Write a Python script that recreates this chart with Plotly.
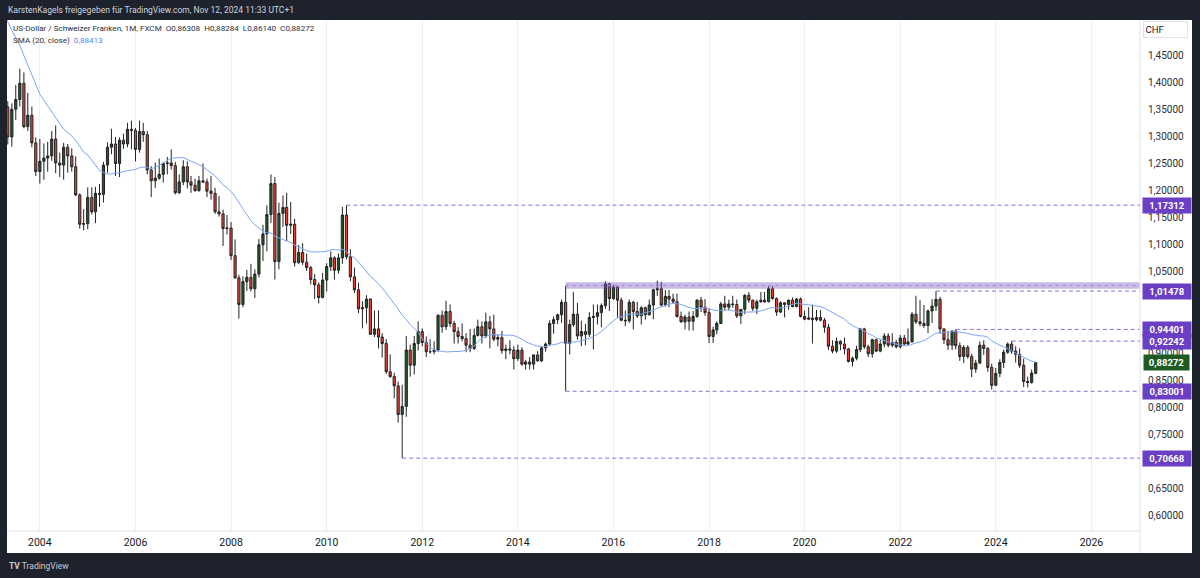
import pandas as pd
import plotly.graph_objects as go

# ---------------- data (USD/CHF monthly, FXCM) ----------------
start_month = "2001-09-01"

open_ = [
    1.6700, 1.6180, 1.6400, 1.6500,  # 2001 Sep-Dec
    1.6650, 1.7000, 1.7000, 1.6600, 1.6200, 1.5600, 1.4900, 1.4700, 1.4800, 1.4800, 1.4800, 1.4900,  # 2002
    1.3850, 1.3700, 1.3600, 1.3500, 1.3540, 1.2990, 1.3500, 1.3680, 1.3980, 1.3180, 1.3390, 1.2880,  # 2003
    1.2350, 1.2540, 1.2600, 1.2640, 1.2950, 1.2510, 1.2470, 1.2800, 1.2640, 1.2440, 1.1920, 1.1380,  # 2004
    1.1390, 1.1875, 1.1610, 1.1950, 1.1930, 1.2470, 1.2800, 1.2860, 1.2500, 1.2930, 1.2860, 1.3130,  # 2005
    1.3110, 1.2760, 1.3090, 1.3030, 1.2380, 1.2180, 1.2230, 1.2300, 1.2500, 1.2510, 1.2460, 1.1960,  # 2006
    1.2160, 1.2440, 1.2160, 1.2100, 1.2000, 1.2180, 1.2160, 1.1990, 1.1950, 1.1610, 1.1570, 1.1300,  # 2007
    1.1310, 1.0800, 1.0390, 0.9900, 1.0320, 1.0400, 1.0190, 1.0460, 1.1000, 1.1200, 1.1560, 1.2130,  # 2008
    1.0690, 1.1580, 1.1690, 1.1360, 1.1380, 1.0670, 1.0860, 1.0680, 1.0580, 1.0360, 1.0260, 1.0030,  # 2009
    1.0350, 1.0600, 1.0760, 1.0530, 1.0760, 1.1550, 1.0780, 1.0410, 1.0170, 0.9820, 0.9840, 1.0000,  # 2010
    0.9350, 0.9450, 0.9300, 0.9180, 0.8660, 0.8570, 0.8400, 0.7870, 0.8020, 0.9060, 0.8780, 0.9180,  # 2011
    0.9400, 0.9200, 0.9030, 0.9030, 0.9060, 0.9700, 0.9490, 0.9770, 0.9550, 0.9400, 0.9310, 0.9270,  # 2012
    0.9150, 0.9090, 0.9330, 0.9490, 0.9320, 0.9580, 0.9450, 0.9260, 0.9290, 0.9050, 0.9080, 0.9060,  # 2013
    0.8900, 0.9060, 0.8800, 0.8840, 0.8800, 0.8970, 0.8860, 0.9100, 0.9170, 0.9550, 0.9620, 0.9710,  # 2014
    0.9940, 0.9180, 0.9530, 0.9720, 0.9320, 0.9400, 0.9350, 0.9660, 0.9680, 0.9750, 0.9880, 1.0280,  # 2015
    1.0010, 1.0220, 0.9980, 0.9610, 0.9600, 0.9940, 0.9770, 0.9690, 0.9840, 0.9710, 0.9890, 1.0170,  # 2016
    1.0190, 0.9890, 1.0050, 1.0000, 0.9950, 0.9680, 0.9580, 0.9670, 0.9590, 0.9680, 0.9980, 0.9850,  # 2017
    0.9750, 0.9310, 0.9430, 0.9550, 0.9910, 0.9850, 0.9910, 0.9900, 0.9690, 0.9810, 1.0070, 0.9980,  # 2018
    0.9830, 0.9950, 0.9980, 0.9950, 1.0190, 1.0010, 0.9760, 0.9930, 0.9900, 0.9980, 0.9860, 1.0000,  # 2019
    0.9680, 0.9630, 0.9650, 0.9620, 0.9660, 0.9610, 0.9480, 0.9130, 0.9040, 0.9220, 0.9170, 0.9080,  # 2020
    0.8850, 0.8910, 0.9070, 0.9450, 0.9120, 0.8990, 0.9250, 0.9040, 0.9170, 0.9320, 0.9150, 0.9200,  # 2021
    0.9120, 0.9280, 0.9170, 0.9210, 0.9720, 0.9580, 0.9550, 0.9510, 0.9780, 0.9870, 0.9995, 0.9450,  # 2022
    0.9250, 0.9150, 0.9410, 0.9140, 0.8940, 0.9110, 0.8940, 0.8710, 0.8820, 0.9150, 0.9090, 0.8740,  # 2023
    0.8410, 0.8630, 0.8830, 0.9020, 0.9170, 0.9040, 0.8980, 0.8780, 0.8480, 0.8460, 0.86308,         # 2024
]

high = [
    1.6900, 1.6600, 1.6750, 1.6900,
    1.7150, 1.7400, 1.7100, 1.6850, 1.6250, 1.5650, 1.5000, 1.5250, 1.5150, 1.5150, 1.5100, 1.4950,
    1.4050, 1.3800, 1.4150, 1.4100, 1.3650, 1.3610, 1.3950, 1.4250, 1.4180, 1.3800, 1.3550, 1.2980,
    1.2950, 1.2870, 1.2900, 1.3100, 1.3200, 1.2700, 1.2880, 1.2860, 1.2780, 1.2630, 1.1950, 1.1660,
    1.2060, 1.2060, 1.2070, 1.2120, 1.2530, 1.2890, 1.3140, 1.2990, 1.2980, 1.3050, 1.3250, 1.3290,
    1.3150, 1.3290, 1.3250, 1.3100, 1.2450, 1.2520, 1.2590, 1.2520, 1.2620, 1.2760, 1.2530, 1.2300,
    1.2560, 1.2540, 1.2270, 1.2220, 1.2270, 1.2500, 1.2220, 1.2270, 1.2050, 1.1900, 1.1650, 1.1550,
    1.1420, 1.1100, 1.0450, 1.0420, 1.0540, 1.0650, 1.0550, 1.1110, 1.1370, 1.1730, 1.2300, 1.2250,
    1.1780, 1.1910, 1.1960, 1.1790, 1.1480, 1.1000, 1.1030, 1.0840, 1.0610, 1.0460, 1.0310, 1.0480,
    1.0660, 1.0880, 1.0790, 1.0840, 1.1700, 1.17312, 1.0920, 1.0580, 1.0300, 0.9960, 1.0070, 1.0010,
    0.9790, 0.9790, 0.9370, 0.9260, 0.8980, 0.8640, 0.8480, 0.8420, 0.9320, 0.9160, 0.9320, 0.9590,
    0.9460, 0.9310, 0.9260, 0.9220, 0.9720, 0.9790, 0.9970, 0.9900, 0.9600, 0.9480, 0.9550, 0.9370,
    0.9450, 0.9460, 0.9620, 0.9590, 0.9750, 0.9690, 0.9710, 0.9350, 0.9410, 0.9160, 0.9240, 0.9130,
    0.9160, 0.9110, 0.8880, 0.8930, 0.8980, 0.9040, 0.9120, 0.9200, 0.9610, 0.9680, 0.9730, 0.9990,
    1.0240, 0.9620, 1.0130, 0.9930, 0.9600, 0.9540, 0.9760, 0.9900, 0.9900, 0.9920, 1.0330, 1.0300,
    1.0260, 1.0240, 1.0030, 0.9790, 0.9990, 0.9970, 0.9950, 0.9870, 0.9860, 0.9990, 1.0190, 1.0340,
    1.0320, 1.0170, 1.0170, 1.0100, 1.0100, 0.9770, 0.9710, 0.9770, 0.9780, 1.0000, 1.0040, 1.0000,
    0.9830, 0.9490, 0.9590, 0.9950, 1.0060, 0.9990, 1.0060, 0.9990, 0.9810, 1.0090, 1.0130, 0.9990,
    0.9990, 1.0130, 1.0130, 1.0240, 1.0240, 1.0030, 0.9960, 0.9940, 0.9990, 1.0030, 1.0020, 1.0030,
    0.9790, 0.9850, 0.9900, 0.9800, 0.9800, 0.9650, 0.9540, 0.9240, 0.9290, 0.9240, 0.9290, 0.9100,
    0.8940, 0.9140, 0.9470, 0.9470, 0.9160, 0.9270, 0.9270, 0.9250, 0.9370, 0.9370, 0.9370, 0.9250,
    0.9340, 0.9340, 0.9460, 0.9760, 1.0060, 0.9980, 0.9890, 0.9810, 1.0000, 1.01478, 1.0040, 0.9460,
    0.9410, 0.9420, 0.94401, 0.9200, 0.9150, 0.9150, 0.8990, 0.8880, 0.9220, 0.9240, 0.9110, 0.8810,
    0.8730, 0.8890, 0.9070, 0.9200, 0.92242, 0.9130, 0.9090, 0.8900, 0.8570, 0.8700, 0.88284,
]

low = [
    1.5900, 1.6050, 1.6050, 1.6350,
    1.6450, 1.6850, 1.6500, 1.6100, 1.5500, 1.4750, 1.4200, 1.4600, 1.4650, 1.4750, 1.4500, 1.3800,
    1.3500, 1.3300, 1.3400, 1.3450, 1.2850, 1.2810, 1.3300, 1.3550, 1.3150, 1.3100, 1.2800, 1.2270,
    1.2130, 1.2200, 1.2350, 1.2550, 1.2320, 1.2250, 1.2200, 1.2330, 1.2350, 1.1900, 1.1300, 1.1270,
    1.1290, 1.1560, 1.1400, 1.1700, 1.1780, 1.2330, 1.2670, 1.2270, 1.2250, 1.2770, 1.2800, 1.2760,
    1.2540, 1.2700, 1.2900, 1.2300, 1.1880, 1.2050, 1.2200, 1.2150, 1.2300, 1.2390, 1.1930, 1.1940,
    1.2100, 1.2040, 1.1960, 1.1980, 1.1980, 1.2140, 1.1880, 1.1830, 1.1570, 1.1520, 1.0980, 1.1190,
    1.0720, 1.0380, 0.9640, 0.9850, 1.0150, 1.0140, 1.0020, 1.0400, 1.0700, 1.0880, 1.1400, 1.0360,
    1.0550, 1.1330, 1.1070, 1.1200, 1.0600, 1.0650, 1.0630, 1.0520, 1.0270, 1.0000, 0.9920, 1.0010,
    1.0140, 1.0520, 1.0360, 1.0470, 1.0650, 1.0730, 1.0330, 1.0110, 0.9740, 0.9460, 0.9550, 0.9340,
    0.9300, 0.9090, 0.8920, 0.8620, 0.8550, 0.8170, 0.7720, 0.70668, 0.7830, 0.8570, 0.8610, 0.9050,
    0.9130, 0.8930, 0.8990, 0.8980, 0.9020, 0.9380, 0.9430, 0.9480, 0.9180, 0.9180, 0.9220, 0.9020,
    0.9020, 0.9060, 0.9310, 0.9180, 0.9280, 0.9090, 0.9220, 0.9130, 0.8990, 0.8890, 0.8980, 0.8700,
    0.8860, 0.8770, 0.8700, 0.8700, 0.8700, 0.8850, 0.8840, 0.9030, 0.9140, 0.9360, 0.9540, 0.9560,
    0.83001, 0.8980, 0.9490, 0.9250, 0.9130, 0.9150, 0.9300, 0.9070, 0.9530, 0.9480, 0.9820, 0.9780,
    0.9980, 0.9660, 0.9590, 0.9500, 0.9560, 0.9440, 0.9650, 0.9530, 0.9620, 0.9700, 0.9630, 1.0060,
    0.9860, 0.9860, 0.9850, 0.9910, 0.9660, 0.9560, 0.9440, 0.9420, 0.9420, 0.9650, 0.9760, 0.9690,
    0.9190, 0.9190, 0.9350, 0.9540, 0.9790, 0.9790, 0.9840, 0.9650, 0.9540, 0.9720, 0.9930, 0.9780,
    0.9720, 0.9930, 0.9930, 0.9940, 0.9990, 0.9690, 0.9740, 0.9660, 0.9800, 0.9850, 0.9850, 0.9660,
    0.9610, 0.9610, 0.9180, 0.9590, 0.9590, 0.9380, 0.9060, 0.9000, 0.9010, 0.9060, 0.8980, 0.8830,
    0.8760, 0.8870, 0.9020, 0.9080, 0.8930, 0.8920, 0.9020, 0.9020, 0.9110, 0.9110, 0.9110, 0.9090,
    0.9090, 0.9150, 0.9150, 0.9200, 0.9540, 0.9500, 0.9470, 0.9370, 0.9560, 0.9780, 0.9360, 0.9170,
    0.9060, 0.9060, 0.9070, 0.8860, 0.8820, 0.8900, 0.8560, 0.8640, 0.8800, 0.8970, 0.8660, 0.8330,
    0.8400, 0.8560, 0.8730, 0.8990, 0.8990, 0.8830, 0.8730, 0.8380, 0.8370, 0.8440, 0.86140,
]

close = [
    1.6180, 1.6400, 1.6500, 1.6650,
    1.7000, 1.7000, 1.6600, 1.6200, 1.5600, 1.4900, 1.4700, 1.4800, 1.4800, 1.4800, 1.4900, 1.3850,
    1.3700, 1.3600, 1.3500, 1.3540, 1.2990, 1.3500, 1.3680, 1.3980, 1.3180, 1.3390, 1.2880, 1.2350,
    1.2540, 1.2600, 1.2640, 1.2950, 1.2510, 1.2470, 1.2800, 1.2640, 1.2440, 1.1920, 1.1380, 1.1390,
    1.1875, 1.1610, 1.1950, 1.1930, 1.2470, 1.2800, 1.2860, 1.2500, 1.2930, 1.2860, 1.3130, 1.3110,
    1.2760, 1.3090, 1.3030, 1.2380, 1.2180, 1.2230, 1.2300, 1.2500, 1.2510, 1.2460, 1.1960, 1.2160,
    1.2440, 1.2160, 1.2100, 1.2000, 1.2180, 1.2160, 1.1990, 1.1950, 1.1610, 1.1570, 1.1300, 1.1310,
    1.0800, 1.0390, 0.9900, 1.0320, 1.0400, 1.0190, 1.0460, 1.1000, 1.1200, 1.1560, 1.2130, 1.0690,
    1.1580, 1.1690, 1.1360, 1.1380, 1.0670, 1.0860, 1.0680, 1.0580, 1.0360, 1.0260, 1.0030, 1.0350,
    1.0600, 1.0760, 1.0530, 1.0760, 1.1550, 1.0780, 1.0410, 1.0170, 0.9820, 0.9840, 1.0000, 0.9350,
    0.9450, 0.9300, 0.9180, 0.8660, 0.8570, 0.8400, 0.7870, 0.8020, 0.9060, 0.8780, 0.9180, 0.9400,
    0.9200, 0.9030, 0.9030, 0.9060, 0.9700, 0.9490, 0.9770, 0.9550, 0.9400, 0.9310, 0.9270, 0.9150,
    0.9090, 0.9330, 0.9490, 0.9320, 0.9580, 0.9450, 0.9260, 0.9290, 0.9050, 0.9080, 0.9060, 0.8900,
    0.9060, 0.8800, 0.8840, 0.8800, 0.8970, 0.8860, 0.9100, 0.9170, 0.9550, 0.9620, 0.9710, 0.9940,
    0.9180, 0.9530, 0.9720, 0.9320, 0.9400, 0.9350, 0.9660, 0.9680, 0.9750, 0.9880, 1.0280, 1.0010,
    1.0220, 0.9980, 0.9610, 0.9600, 0.9940, 0.9770, 0.9690, 0.9840, 0.9710, 0.9890, 1.0170, 1.0190,
    0.9890, 1.0050, 1.0000, 0.9950, 0.9680, 0.9580, 0.9670, 0.9590, 0.9680, 0.9980, 0.9850, 0.9750,
    0.9310, 0.9430, 0.9550, 0.9910, 0.9850, 0.9910, 0.9900, 0.9690, 0.9810, 1.0070, 0.9980, 0.9830,
    0.9950, 0.9980, 0.9950, 1.0190, 1.0010, 0.9760, 0.9930, 0.9900, 0.9980, 0.9860, 1.0000, 0.9680,
    0.9630, 0.9650, 0.9620, 0.9660, 0.9610, 0.9480, 0.9130, 0.9040, 0.9220, 0.9170, 0.9080, 0.8850,
    0.8910, 0.9070, 0.9450, 0.9120, 0.8990, 0.9250, 0.9040, 0.9170, 0.9320, 0.9150, 0.9200, 0.9120,
    0.9280, 0.9170, 0.9210, 0.9720, 0.9580, 0.9550, 0.9510, 0.9780, 0.9870, 0.9995, 0.9450, 0.9250,
    0.9150, 0.9410, 0.9140, 0.8940, 0.9110, 0.8940, 0.8710, 0.8820, 0.9150, 0.9090, 0.8740, 0.8410,
    0.8630, 0.8830, 0.9020, 0.9170, 0.9040, 0.8980, 0.8780, 0.8480, 0.8460, 0.8636, 0.88272,
]

# horizontal levels drawn on the chart (price, start month)
level_prices = [1.17312, 1.01478, 0.94401, 0.92242, 0.83001, 0.70668]
level_starts = ["2010-06-01", "2022-10-01", "2023-03-01", "2024-05-01", "2015-01-01", "2011-08-01"]
zone_start = "2015-01-01"
zone_low, zone_high, zone_mid = 1.0190, 1.0310, 1.0250
last_price = 0.88272
sma_last_text = "0,88413"

# price-scale labels that are not hidden behind the level tags
y_ticks = [0.60, 0.65, 0.75, 0.80, 0.85, 0.90, 1.05,
           1.10, 1.15, 1.20, 1.25, 1.30, 1.35, 1.40, 1.45]

header_text = "KarstenKagels freigegeben für TradingView.com, Nov 12, 2024 11:33 UTC+1"
legend_text = "US-Dollar / Schweizer Franken, 1M, FXCM"
ohlc_text = "O0,86308\u00a0\u00a0H0,88284\u00a0\u00a0L0,86140\u00a0\u00a0C0,88272"

# ---------------- figure ----------------
n = min(len(open_), len(high), len(low), len(close))
dates = pd.date_range(start_month, periods=n, freq="MS")
sma = pd.Series(close[:n]).rolling(20).mean()

FONT = "Roboto"
DARK = "#1e222d"
PURPLE = "#6a3fc4"
DASH_C = "#8c6cdc"

fig = go.Figure()
fig.add_trace(go.Candlestick(
    x=dates, open=open_[:n], high=high[:n], low=low[:n], close=close[:n],
    increasing=dict(line=dict(color="#222222", width=1), fillcolor="#1f5a2c"),
    decreasing=dict(line=dict(color="#222222", width=1), fillcolor="#ee3f33"),
    whiskerwidth=0, hoverinfo="skip", showlegend=False,
))
fig.add_trace(go.Scatter(
    x=dates, y=sma, mode="lines", line=dict(color="#7aa5f5", width=1),
    hoverinfo="skip", showlegend=False,
))

shapes = []
# white chart canvas inside dark frame
shapes.append(dict(type="rect", xref="paper", yref="paper", x0=0, x1=1.0459,
                   y0=-0.04305, y1=1, fillcolor="white", line=dict(width=0), layer="below"))
# resistance zone
shapes.append(dict(type="rect", xref="x", yref="y", x0=zone_start, x1="2027-12-01",
                   y0=zone_low, y1=zone_high, fillcolor="rgba(126,87,194,0.42)",
                   line=dict(width=0), layer="above"))
shapes.append(dict(type="line", xref="x", yref="y", x0=zone_start, x1="2027-12-01",
                   y0=zone_mid, y1=zone_mid, line=dict(color="#9f86de", width=1, dash="3px,4px"),
                   layer="above"))
for p, s in zip(level_prices, level_starts):
    shapes.append(dict(type="line", xref="x", yref="y", x0=s, x1="2027-12-01", y0=p, y1=p,
                       line=dict(color=DASH_C, width=1, dash="4px,3px"), layer="above"))
# axis separators
shapes.append(dict(type="line", xref="paper", yref="paper", x0=1, x1=1, y0=-0.04305, y1=1,
                   line=dict(color="#e0e3eb", width=1), layer="above"))
shapes.append(dict(type="line", xref="paper", yref="paper", x0=0, x1=1, y0=0, y1=0,
                   line=dict(color="#e0e3eb", width=1), layer="above"))

annotations = []
annotations.append(dict(xref="paper", yref="paper", x=0, y=1, xshift=-1, yshift=10,
                        xanchor="left", yanchor="middle", showarrow=False,
                        text=header_text, font=dict(family=FONT, size=8.5, color="#d1d4dc")))
annotations.append(dict(xref="paper", yref="paper", x=0, y=1, xshift=4, yshift=-7.5,
                        xanchor="left", yanchor="middle", showarrow=False,
                        text=legend_text + "\u00a0\u00a0" + ohlc_text,
                        font=dict(family=FONT, size=8.1, color="#2a2e39")))
annotations.append(dict(xref="paper", yref="paper", x=0, y=1, xshift=4, yshift=-20,
                        xanchor="left", yanchor="middle", showarrow=False,
                        text="SMA (20, close)\u00a0\u00a0<span style='color:#4f86f0'>" + sma_last_text + "</span>",
                        font=dict(family=FONT, size=8.1, color="#2a2e39")))
annotations.append(dict(xref="paper", yref="paper", x=1, y=1, xshift=3, yshift=-9.5,
                        xanchor="left", yanchor="middle", showarrow=False, text="CHF",
                        align="left", width=40, height=12, borderpad=1.5,
                        bordercolor="#e0e3eb", borderwidth=1, bgcolor="white",
                        font=dict(family=FONT, size=9.5, color="#131722")))
for p in level_prices:
    annotations.append(dict(xref="paper", yref="y", x=1, y=p, xshift=1.5,
                            xanchor="left", yanchor="middle", showarrow=False,
                            text="<b>" + f"{p:.5f}".replace(".", ",") + "</b>",
                            width=44, height=11, borderpad=2, bgcolor=PURPLE, align="center",
                            font=dict(family=FONT, size=9.5, color="white")))
annotations.append(dict(xref="paper", yref="y", x=1, y=last_price, xshift=2.5,
                        xanchor="left", yanchor="middle", showarrow=False,
                        text="<b>" + f"{last_price:.5f}".replace(".", ",") + "</b>",
                        width=41, height=11, borderpad=2, bgcolor="#1e5b22", align="center",
                        font=dict(family=FONT, size=9.5, color="white")))
annotations.append(dict(xref="paper", yref="paper", x=0, y=0, xshift=0, yshift=-35,
                        xanchor="left", yanchor="middle", showarrow=False,
                        text="<b>TV</b> TradingView",
                        font=dict(family=FONT, size=8.5, color="#c8cbd3")))

fig.update_layout(
    width=1200, height=578,
    margin=dict(l=7, r=60, t=20, b=47, pad=0),
    paper_bgcolor=DARK, plot_bgcolor="white",
    separators=",.",
    showlegend=False,
    boxgap=0.15,
    font=dict(family=FONT, color="#131722"),
    shapes=shapes, annotations=annotations,
    xaxis=dict(
        type="date", range=["2003-04-25", "2027-01-07"],
        rangeslider=dict(visible=False),
        tickmode="linear", tick0="2004-01-01", dtick="M24", tickformat="%Y",
        showgrid=True, gridcolor="#eceef3", gridwidth=1,
        ticks="", zeroline=False, showline=False, fixedrange=True,
        tickfont=dict(family=FONT, size=10.5, color="#131722"),
        ticklabelstandoff=3,
    ),
    yaxis=dict(
        side="right", range=[0.5723, 1.5146],
        tickmode="array", tickvals=y_ticks, tickformat=".5f",
        showgrid=False, ticks="", zeroline=False, showline=False, fixedrange=True,
        tickfont=dict(family=FONT, size=10, color="#2a2e39"),
        ticklabelstandoff=7,
    ),
)

fig.write_html(
    "out.html",
    config={"displayModeBar": False, "staticPlot": True},
    post_script="document.body.style.margin='0';document.body.style.overflow='hidden';",
)
